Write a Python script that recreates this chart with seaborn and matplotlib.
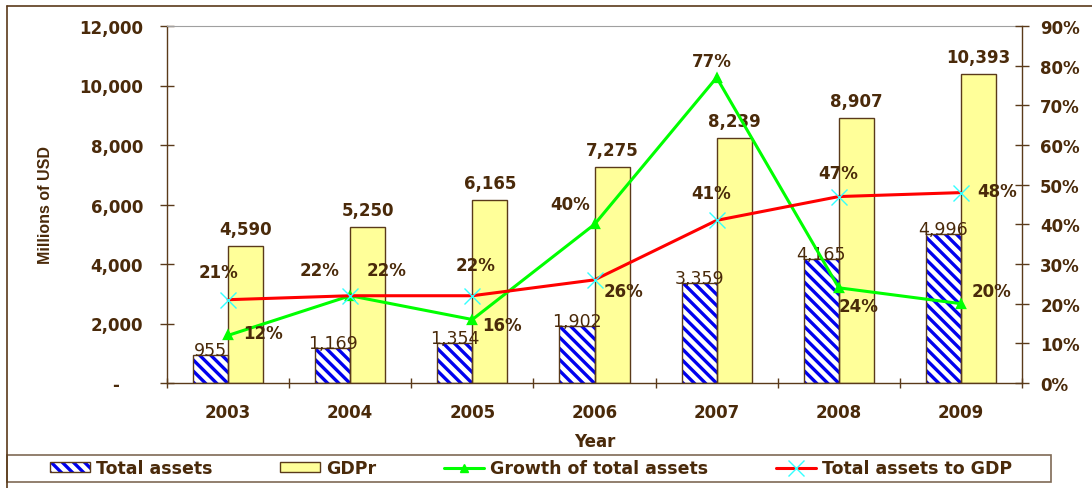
import numpy as np
import pandas as pd
import matplotlib
matplotlib.use("Agg")
import matplotlib.pyplot as plt
import seaborn as sns
from matplotlib.patches import Patch, Rectangle
from matplotlib.lines import Line2D
from matplotlib.legend_handler import HandlerTuple
from matplotlib.ticker import FuncFormatter

years = ["2003", "2004", "2005", "2006", "2007", "2008", "2009"]
total_assets = [955, 1169, 1354, 1902, 3359, 4165, 4996]
gdpr = [4590, 5250, 6165, 7275, 8239, 8907, 10393]
growth_pct = [12, 22, 16, 40, 77, 24, 20]
assets_to_gdp_pct = [21, 22, 22, 26, 41, 47, 48]

# where the percent labels sit around their points (pixels, picked by eye)
growth_offsets = [(35, 2), (36, 26), (30, -5), (-24, 20), (-5, 17), (20, -18), (31, 13)]
ratio_offsets = [(-10, 28), (-31, 26), (3, 31), (29, -11), (-6, 27), (-1, 24), (36, 2)]

TEXT = "#4a2a0a"
AXIS = "#5a3a1a"
BLUE = "#0000ee"
YELLOW = "#ffff99"
GREEN = "#00ff00"
RED = "#ff0000"
CYAN = "#33ffff"
HATCH = "\\\\\\"

sns.set_style("white")
plt.rcParams["font.family"] = ["DejaVu Sans"]
plt.rcParams["font.weight"] = "bold"
plt.rcParams["hatch.linewidth"] = 2.4

df = pd.DataFrame({
    "Year": years * 2,
    "Series": ["Total assets"] * len(years) + ["GDPr"] * len(years),
    "Value": total_assets + gdpr,
})

W, H = 1092, 489
fig = plt.figure(figsize=(W / 100, H / 100), dpi=100)
ax = fig.add_axes([167 / W, 1 - 384 / H, (1022 - 167) / W, 357 / H])

sns.barplot(data=df, x="Year", y="Value", hue="Series",
            palette={"Total assets": "white", "GDPr": YELLOW},
            width=0.575, edgecolor=AXIS, linewidth=1.0, saturation=1,
            legend=False, ax=ax)

# hatched bars: blue stripes, brown outline on top
for bar in ax.containers[0]:
    ax.add_patch(Rectangle(bar.get_xy(), bar.get_width(), bar.get_height(),
                           fill=False, edgecolor=AXIS, linewidth=1.0,
                           zorder=bar.get_zorder() + 0.1))
    bar.set_hatch(HATCH)
    bar.set_edgecolor(BLUE)
    bar.set_linewidth(0)

for bar, v in zip(ax.containers[0], total_assets):
    ax.annotate(f"{v:,}", (bar.get_x() + bar.get_width() / 2, bar.get_height()),
                xytext=(0, 0), textcoords="offset pixels", ha="center", va="baseline",
                fontsize=12.5, fontweight="medium", color=TEXT, zorder=5)
for bar, v in zip(ax.containers[1], gdpr):
    ax.annotate(f"{v:,}", (bar.get_x() + bar.get_width() / 2, bar.get_height()),
                xytext=(0, 12), textcoords="offset pixels", ha="center", va="baseline",
                fontsize=12, color=TEXT, zorder=5)

ax.set_ylim(0, 12000)
ax.set_yticks(range(0, 12001, 2000))
ax.yaxis.set_major_formatter(FuncFormatter(lambda v, p: "-    " if v == 0 else f"{int(v):,}"))
ax.tick_params(axis="y", direction="inout", length=9.5, width=1, color=AXIS,
               pad=12.6, labelsize=12, labelcolor=TEXT, left=True)

ax2 = ax.twinx()
sns.pointplot(x=years, y=growth_pct, color=GREEN, markers="^", errorbar=None,
              linewidth=2.2, ax=ax2)
sns.pointplot(x=years, y=assets_to_gdp_pct, color=RED, markers="x", errorbar=None,
              linewidth=2.2, ax=ax2)
g_line, r_line = ax2.lines[0], ax2.lines[1]
g_line.set_markersize(6)
r_line.set_markersize(12)
r_line.set_markeredgecolor(CYAN)
r_line.set_markerfacecolor(CYAN)
r_line.set_markeredgewidth(1)

for i, (v, off) in enumerate(zip(growth_pct, growth_offsets)):
    ax2.annotate(f"{v}%", (i, v), xytext=off, textcoords="offset pixels",
                 ha="center", va="center", fontsize=12, color=TEXT)
for i, (v, off) in enumerate(zip(assets_to_gdp_pct, ratio_offsets)):
    ax2.annotate(f"{v}%", (i, v), xytext=off, textcoords="offset pixels",
                 ha="center", va="center", fontsize=12, color=TEXT)

ax2.set_ylim(0, 90)
ax2.set_yticks(range(0, 91, 10))
ax2.yaxis.set_major_formatter(FuncFormatter(lambda v, p: f"{int(v)}%"))
ax2.tick_params(axis="y", direction="inout", length=9.5, width=1, color=AXIS,
                pad=8.3, labelsize=12, labelcolor=TEXT, right=True)
ax2.set_ylabel("")

# x axis: labels at the centres, tick marks between the years
ax.set_xlim(-0.5, len(years) - 0.5)
ax.set_xticks(range(len(years)))
ax.set_xticklabels(years)
ax.set_xticks(np.arange(-0.5, len(years)), minor=True)
ax.tick_params(axis="x", which="major", length=0, pad=14.4, labelsize=12, labelcolor=TEXT)
ax.tick_params(axis="x", which="minor", direction="inout", length=6.5, width=1,
               color=AXIS, bottom=True)

for side in ["left", "bottom"]:
    ax.spines[side].set_color(AXIS)
    ax.spines[side].set_linewidth(1)
ax.spines["top"].set_color("#a0a0a0")
ax.spines["right"].set_visible(False)
for side in ["left", "bottom", "top"]:
    ax2.spines[side].set_visible(False)
ax2.spines["right"].set_color(AXIS)
ax2.spines["right"].set_linewidth(1)

ax.set_xlabel("Year", fontsize=12, fontweight="bold", color=TEXT, va="top")
ax.xaxis.set_label_coords(0.5, -(433 - 384) / 357)
ax.set_ylabel("Millions of USD", family="Liberation Sans", fontsize=11.5,
              fontweight="bold", color=TEXT)
ax.yaxis.set_label_coords((53 - 167) / 855, 0.5)

handles = [
    (Patch(facecolor="white", edgecolor=BLUE, hatch=HATCH, linewidth=0),
     Patch(facecolor="none", edgecolor=AXIS, linewidth=1)),
    Patch(facecolor=YELLOW, edgecolor=AXIS, linewidth=1),
    Line2D([], [], color=GREEN, linewidth=2.2, marker="^", markersize=6),
    Line2D([], [], color=RED, linewidth=2.2, marker="x", markersize=12,
           markeredgecolor=CYAN, markeredgewidth=1),
]
labels = ["Total assets", "GDPr", "Growth of total assets", "Total assets to GDP"]
fig.legend(handles=handles, labels=labels, loc="center",
           bbox_to_anchor=(531 / W, 1 - 469.5 / H), ncol=4, frameon=False,
           fontsize=12.5, labelcolor=TEXT, handlelength=2.3, handleheight=0.5,
           handletextpad=0.35, columnspacing=3.9,
           handler_map={tuple: HandlerTuple(ndivide=1)})

# legend box and outer chart frame
fig.add_artist(Rectangle((7 / W, 1 - 483 / H), (1051 - 7) / W, 27 / H,
                         transform=fig.transFigure, fill=False,
                         edgecolor="#7f6a55", linewidth=1.2))
fig.add_artist(Line2D([7 / W, 1], [1 - 7 / H, 1 - 7 / H], transform=fig.transFigure,
                      color=AXIS, linewidth=1.2))
fig.add_artist(Line2D([7 / W, 7 / W], [0, 1 - 7 / H], transform=fig.transFigure,
                      color=AXIS, linewidth=1.2))

fig.savefig("out.png", dpi=100)
